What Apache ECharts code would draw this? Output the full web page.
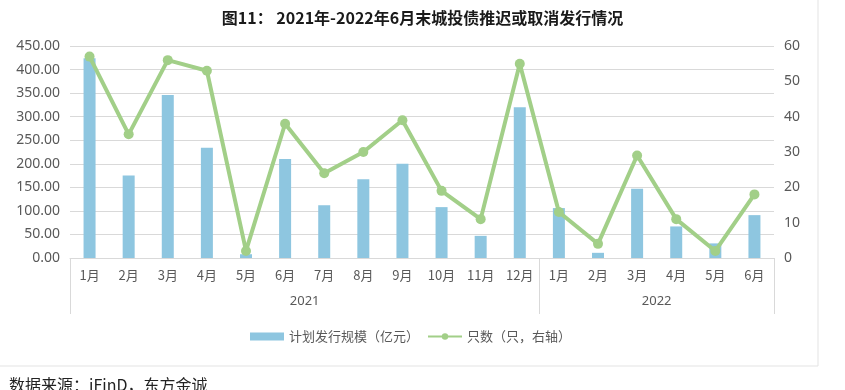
<!DOCTYPE html>
<html>
<head>
<meta charset="utf-8">
<script src="https://cdn.jsdelivr.net/npm/echarts@6/dist/echarts.min.js"></script>
<style>html,body{margin:0;padding:0;background:#fff;}#c{width:845px;height:390px;}</style>
</head>
<body>
<div id="c"></div>
<script>
const months = ['1月','2月','3月','4月','5月','6月','7月','8月','9月','10月','11月','12月','1月','2月','3月','4月','5月','6月'];
const years = ['2021','2022'];
const monthsPerYear = [12, 6];
const issueScale = [424,175,346,234,8,210,112,167,200,108,47,320,106,11,147,67,31,91];
const issueCount = [57,35,56,53,2,38,24,30,39,19,11,55,13,4,29,11,2,18];
const leftAxis = {min:0, max:450, interval:50};
const rightAxis = {min:0, max:60, interval:10};

// build year-level axis on half-band slots
const yearSlots = new Array(months.length*2+1).fill('');
const yearBounds = [0];
let start = 0;
years.forEach((y,i)=>{
  yearSlots[start*2 + monthsPerYear[i]] = y;
  start += monthsPerYear[i];
  yearBounds.push(start*2);
});

const gray = '#595959';
const lineGray = '#d9d9d9';
const chart = echarts.init(document.getElementById('c'));
chart.setOption({
  animation:false,
  backgroundColor:'#fff',
  title:[{
    text:'图11： 2021年-2022年6月末城投债推迟或取消发行情况',
    left:'center', top:5,
    textStyle:{fontSize:16, fontWeight:'bold', color:'#1a1a1a', fontFamily:'Noto Sans CJK SC'}
  },{
    text:'数据来源：iFinD，东方金诚',
    left:4, top:372,
    textStyle:{fontSize:16, fontWeight:'normal', color:'#222', fontFamily:'Noto Sans CJK SC'}
  }],
  graphic:[
    {type:'line', shape:{x1:818,y1:0,x2:818,y2:366}, style:{stroke:'#e3e3e3', lineWidth:1}},
    {type:'line', shape:{x1:0,y1:366,x2:818,y2:366}, style:{stroke:'#e3e3e3', lineWidth:1}}
  ],
  legend:{
    left:245, top:325,
    itemWidth:34, itemHeight:8, itemGap:8,
    textStyle:{fontSize:13, color:gray, fontFamily:'Noto Sans CJK SC'},
    data:[{name:'计划发行规模（亿元）', icon:'rect'},{name:'只数（只，右轴）'}]
  },
  grid:{left:70, right:71, top:46, bottom:132, containLabel:false},
  xAxis:[{
    type:'category', data:months, gridIndex:0, position:'bottom',
    axisLine:{show:true, lineStyle:{color:lineGray}},
    axisTick:{show:false},
    axisLabel:{interval:0, margin:11, fontSize:13, color:gray, fontFamily:'Noto Sans CJK SC'}
  },{
    type:'category', data:yearSlots, gridIndex:0, position:'bottom', offset:0, boundaryGap:false,
    axisLine:{show:false},
    axisTick:{show:true, length:56, interval:(i)=>yearBounds.includes(i), lineStyle:{color:lineGray}},
    axisLabel:{interval:0, margin:37, fontSize:13, color:gray, fontFamily:'Noto Sans'}
  }],
  yAxis:[{
    type:'value', min:leftAxis.min, max:leftAxis.max, interval:leftAxis.interval,
    axisLine:{show:false}, axisTick:{show:false},
    splitLine:{lineStyle:{color:lineGray, width:1}},
    axisLabel:{margin:10, fontSize:14, color:gray, fontFamily:'Noto Sans', formatter:(v)=>v.toFixed(2)}
  },{
    type:'value', min:rightAxis.min, max:rightAxis.max, interval:rightAxis.interval,
    axisLine:{show:false}, axisTick:{show:false}, splitLine:{show:false},
    axisLabel:{margin:10, fontSize:14, color:gray, fontFamily:'Noto Sans'}
  }],
  series:[{
    name:'计划发行规模（亿元）', type:'bar', xAxisIndex:0, yAxisIndex:0,
    data:issueScale, barWidth:12, itemStyle:{color:'#8ec6e0'}
  },{
    name:'只数（只，右轴）', type:'line', xAxisIndex:0, yAxisIndex:1,
    data:issueCount, symbol:'circle', symbolSize:10,
    lineStyle:{color:'#a2cf88', width:4}, itemStyle:{color:'#a2cf88'}, z:3
  }]
});
</script>
</body>
</html>
